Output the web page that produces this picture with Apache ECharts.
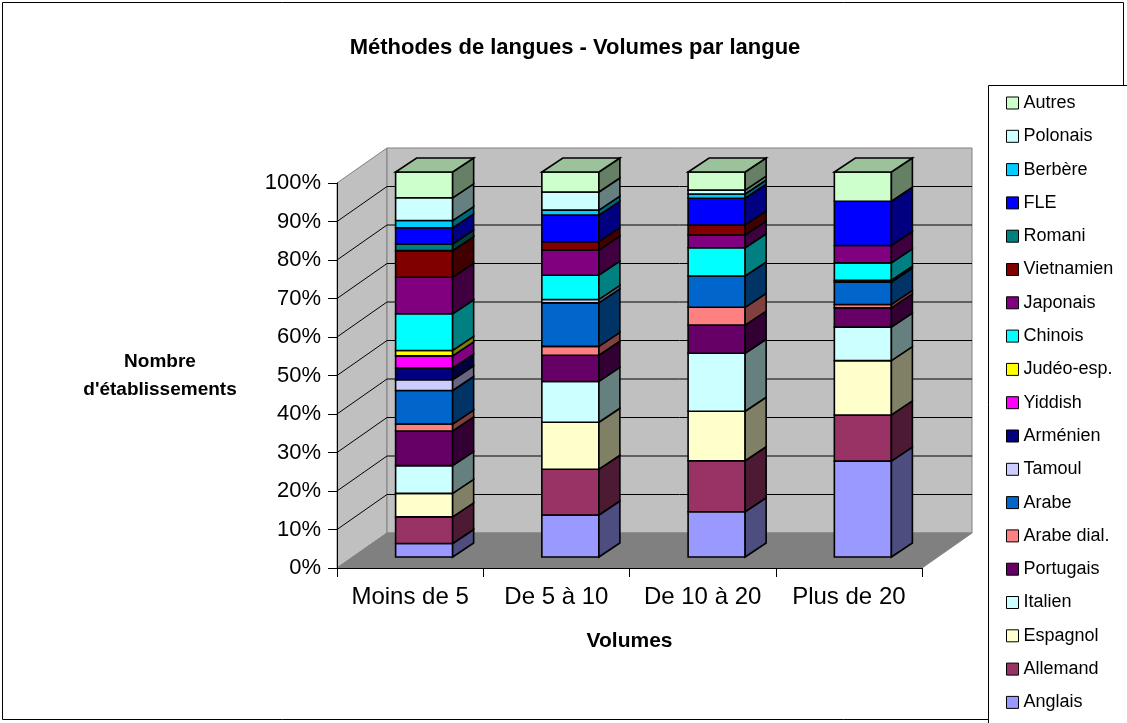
<!DOCTYPE html>
<html><head><meta charset="utf-8">
<script src="https://cdn.jsdelivr.net/npm/echarts@6/dist/echarts.min.js"></script>
<style>html,body{margin:0;padding:0;background:#fff}#c{width:1127px;height:723px}</style>
</head><body><div id="c"></div>
<script>
// ---- data ----
const categories = ['Moins de 5', 'De 5 à 10', 'De 10 à 20', 'Plus de 20'];
const yTicks = [0, 10, 20, 30, 40, 50, 60, 70, 80, 90, 100];

const anglais    = [3.5, 10.9, 11.7, 24.9];
const allemand   = [6.9, 11.9, 13.2, 12.0];
const espagnol   = [6.1, 12.2, 12.8, 14.1];
const italien    = [7.2, 10.6, 15.0, 8.7];
const portugais  = [9.0, 6.8, 7.3, 5.0];
const arabeDial  = [1.8, 2.3, 4.6, 0.9];
const arabe      = [8.7, 11.3, 8.1, 5.8];
const tamoul     = [2.8, 0.9, 0, 0];
const armenien   = [3.0, 0, 0, 0.5];
const yiddish    = [3.2, 0, 0, 0];
const judeo      = [1.4, 0, 0, 0];
const chinois    = [9.5, 6.3, 7.3, 4.5];
const japonais   = [9.5, 6.5, 3.3, 4.5];
const vietnamien = [6.9, 2.2, 2.6, 0];
const romani     = [1.7, 0, 0, 0];
const fle        = [4.2, 6.9, 6.9, 11.5];
const berbere    = [1.9, 1.3, 1.1, 0];
const polonais   = [5.9, 4.7, 1.0, 0];
const autres     = [6.7, 5.2, 4.7, 7.6];

const seriesNames = ['Anglais','Allemand','Espagnol','Italien','Portugais','Arabe dial.','Arabe','Tamoul',
  'Arménien','Yiddish','Judéo-esp.','Chinois','Japonais','Vietnamien','Romani','FLE','Berbère','Polonais','Autres'];
const seriesValues = [anglais, allemand, espagnol, italien, portugais, arabeDial, arabe, tamoul,
  armenien, yiddish, judeo, chinois, japonais, vietnamien, romani, fle, berbere, polonais, autres];
const seriesColors = ['#9999FF','#993366','#FFFFCC','#CCFFFF','#660066','#FF8080','#0066CC','#CCCCFF',
  '#000080','#FF00FF','#FFFF00','#00FFFF','#800080','#800000','#008080','#0000FF','#00CCFF','#CCFFFF','#CCFFCC'];

// ---- 3D look constants ----
const BACK_DX = 50, BACK_DY = -35;
const BAR_DX = 14, BAR_DY = -11;
const DEPTH_DX = 21, DEPTH_DY = -14;
const BAR_W = 0.39;
const FONT = '"Liberation Sans", Arial, sans-serif';

function shade(hex, f) {
  const n = parseInt(hex.slice(1), 16);
  const r = Math.round(((n >> 16) & 255) * f), g = Math.round(((n >> 8) & 255) * f), b = Math.round((n & 255) * f);
  return 'rgb(' + r + ',' + g + ',' + b + ')';
}

// 100% stacking
const totals = categories.map((c, j) => seriesValues.reduce((s, a) => s + a[j], 0));
const cumul = categories.map(() => 0);
const stackedData = seriesValues.map(arr => arr.map((v, j) => {
  const lo = cumul[j] / totals[j] * 100;
  cumul[j] += v;
  const hi = cumul[j] / totals[j] * 100;
  return [j, lo, hi];
}));

function renderWalls(params, api) {
  const cs = params.coordSys;
  const x0 = cs.x, x1 = cs.x + cs.width;
  const yb = api.coord([0, 0])[1], yt = api.coord([0, 100])[1];
  const ch = [];
  ch.push({type: 'polygon', shape: {points: [[x0, yt], [x0 + BACK_DX, yt + BACK_DY], [x0 + BACK_DX, yb + BACK_DY], [x0, yb]]},
    style: {fill: '#c0c0c0', stroke: '#808080', lineWidth: 1}});
  ch.push({type: 'rect', shape: {x: x0 + BACK_DX, y: yt + BACK_DY, width: cs.width, height: yb - yt},
    style: {fill: '#c0c0c0', stroke: '#808080', lineWidth: 1}});
  ch.push({type: 'polygon', shape: {points: [[x0, yb], [x1, yb], [x1 + BACK_DX, yb + BACK_DY], [x0 + BACK_DX, yb + BACK_DY]]},
    style: {fill: '#808080', stroke: '#808080', lineWidth: 1}});
  yTicks.forEach(v => {
    if (v === 0 || v === 100) return;
    const y = api.coord([0, v])[1];
    ch.push({type: 'polyline', shape: {points: [[x0, y], [x0 + BACK_DX, y + BACK_DY], [x1 + BACK_DX, y + BACK_DY]]},
      style: {stroke: '#000', lineWidth: 1, fill: null}});
  });
  return {type: 'group', children: ch};
}

function makeBarRenderer(color, isTopSeries) {
  return function (params, api) {
    const j = api.value(0), lo = api.value(1), hi = api.value(2);
    if (!(hi - lo > 0.0001)) return null;
    const bw = api.size([1, 0])[0] * BAR_W;
    const pLo = api.coord([j, lo]), pHi = api.coord([j, hi]);
    const xl = pLo[0] - bw / 2 + BAR_DX, xr = xl + bw;
    const yl = pLo[1] + BAR_DY, yh = pHi[1] + BAR_DY;
    const st = {stroke: '#000', lineWidth: 1.6, lineJoin: 'miter'};
    const ch = [
      {type: 'rect', shape: {x: xl, y: yh, width: bw, height: yl - yh}, style: Object.assign({fill: color}, st)},
      {type: 'polygon', shape: {points: [[xr, yl], [xr + DEPTH_DX, yl + DEPTH_DY], [xr + DEPTH_DX, yh + DEPTH_DY], [xr, yh]]},
        style: Object.assign({fill: shade(color, 0.5)}, st)}
    ];
    if (isTopSeries) {
      ch.push({type: 'polygon', shape: {points: [[xl, yh], [xr, yh], [xr + DEPTH_DX, yh + DEPTH_DY], [xl + DEPTH_DX, yh + DEPTH_DY]]},
        style: Object.assign({fill: shade(color, 0.76)}, st)});
    }
    return {type: 'group', children: ch};
  };
}

const series = [{
  type: 'custom', name: '_walls', z: 1, silent: true, data: [[0, 0]],
  renderItem: renderWalls, encode: {x: 0, y: 1}
}];
seriesNames.forEach((name, i) => {
  series.push({
    type: 'custom', name: name, z: 2,
    data: stackedData[i],
    itemStyle: {color: seriesColors[i]},
    encode: {x: 0, y: 2},
    renderItem: makeBarRenderer(seriesColors[i], i === seriesNames.length - 1)
  });
});

const chart = echarts.init(document.getElementById('c'), null, {renderer: 'canvas'});
chart.setOption({
  animation: false,
  backgroundColor: '#fff',
  textStyle: {fontFamily: FONT},
  title: {
    text: 'Méthodes de langues - Volumes par langue',
    left: 570, top: 32, textAlign: 'center',
    textStyle: {fontSize: 22, fontWeight: 'bold', color: '#000', fontFamily: FONT}
  },
  grid: {left: 337, top: 183, width: 585, height: 385, containLabel: false},
  xAxis: {
    type: 'category', data: categories, z: 10,
    name: 'Volumes', nameLocation: 'middle', nameGap: 63,
    nameTextStyle: {fontSize: 21, fontWeight: 'bold', color: '#000', fontFamily: FONT},
    axisLine: {lineStyle: {color: '#000', width: 1}},
    axisTick: {show: true, interval: 0, length: 9, lineStyle: {color: '#000'}},
    axisLabel: {interval: 0, fontSize: 24, color: '#000', margin: 17, fontFamily: FONT},
    splitLine: {show: false}
  },
  yAxis: {
    type: 'value', min: 0, max: 100, interval: 10, z: 10,
    name: 'Nombre\nd\'établissements', nameLocation: 'middle', nameGap: 177, nameRotate: 0,
    nameTextStyle: {fontSize: 19, fontWeight: 'bold', color: '#000', lineHeight: 28, fontFamily: FONT, align: 'center'},
    axisLine: {show: true, lineStyle: {color: '#000', width: 1}},
    axisTick: {show: true, length: 9, lineStyle: {color: '#000'}},
    axisLabel: {fontSize: 22, color: '#000', margin: 16, formatter: '{value}%', fontFamily: FONT},
    splitLine: {show: false}
  },
  legend: {
    orient: 'vertical', left: 1001, top: 88,
    itemWidth: 12, itemHeight: 12, itemGap: 13.3, icon: 'rect',
    selectedMode: false,
    itemStyle: {borderColor: '#000', borderWidth: 1},
    textStyle: {fontSize: 18, color: '#000', lineHeight: 20, fontFamily: FONT},
    data: seriesNames.slice().reverse()
  },
  graphic: [
    {type: 'rect', z: -10, shape: {x: 2.5, y: 2.5, width: 1121, height: 717}, style: {fill: null, stroke: '#000', lineWidth: 1}},
    {type: 'rect', z: -9, shape: {x: 988.5, y: 85.5, width: 200, height: 700}, style: {fill: '#fff', stroke: '#000', lineWidth: 1}}
  ],
  series: series
});
</script></body></html>
